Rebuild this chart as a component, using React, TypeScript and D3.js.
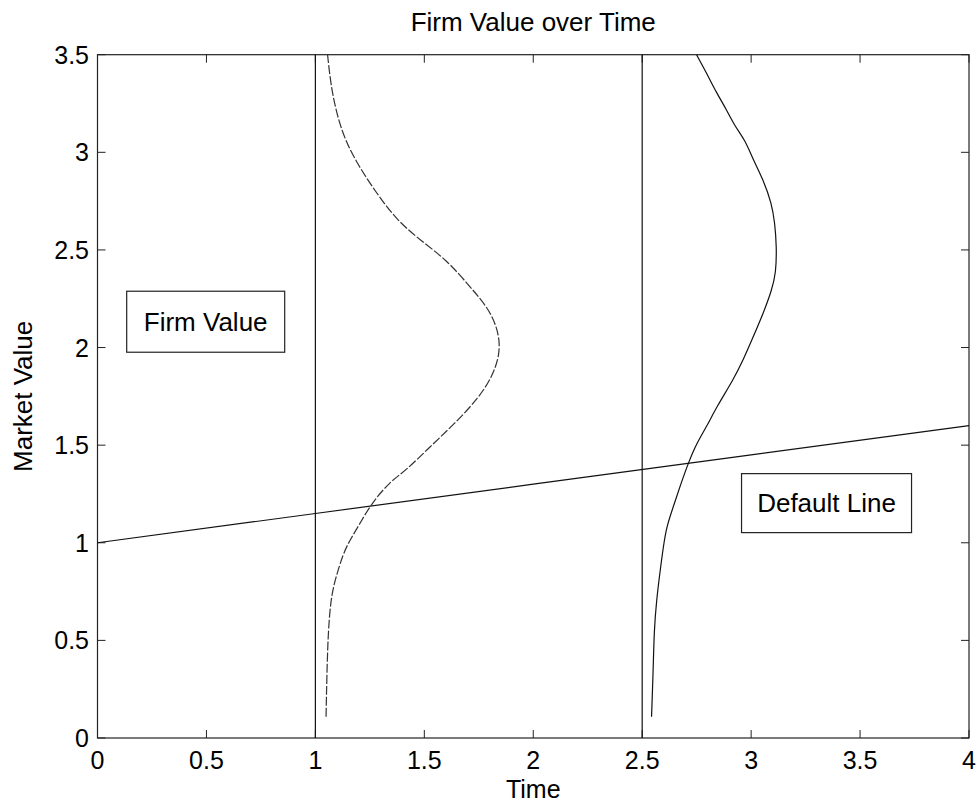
import React from "react";
import * as d3 from "d3";

const title = "Firm Value over Time";
const xLabel = "Time";
const yLabel = "Market Value";
const xTicks = [0, 0.5, 1, 1.5, 2, 2.5, 3, 3.5, 4];
const yTicks = [0, 0.5, 1, 1.5, 2, 2.5, 3, 3.5];

// default line (time, value)
const defaultTime = [0, 1, 2, 3, 4];
const defaultValue = [1.0, 1.15, 1.3, 1.45, 1.6];

// vertical time markers
const markerTimes = [1, 2.5];

// density curve at t = 1 : [time-position, market value]
const density1X = [1.049, 1.056, 1.070, 1.090, 1.128, 1.159, 1.205, 1.258, 1.342, 1.419, 1.526, 1.633, 1.755, 1.815, 1.845, 1.845, 1.810, 1.755, 1.709, 1.603, 1.480, 1.373, 1.281, 1.190, 1.121, 1.075, 1.056];
const density1Y = [0.109, 0.502, 0.707, 0.809, 0.946, 1.014, 1.100, 1.202, 1.313, 1.373, 1.492, 1.603, 1.748, 1.860, 1.960, 2.060, 2.170, 2.253, 2.312, 2.449, 2.551, 2.654, 2.790, 2.944, 3.098, 3.303, 3.499];

// density curve at t = 2.5
const density2X = [2.543, 2.551, 2.555, 2.566, 2.581, 2.597, 2.612, 2.643, 2.673, 2.711, 2.750, 2.796, 2.842, 2.918, 2.964, 3.010, 3.056, 3.095, 3.114, 3.117, 3.109, 3.094, 3.056, 3.010, 2.972, 2.926, 2.888, 2.842, 2.796, 2.750];
const density2Y = [0.109, 0.365, 0.553, 0.707, 0.844, 0.980, 1.083, 1.185, 1.287, 1.407, 1.510, 1.595, 1.697, 1.834, 1.937, 2.056, 2.176, 2.295, 2.381, 2.517, 2.637, 2.739, 2.859, 2.961, 3.064, 3.132, 3.217, 3.303, 3.405, 3.499];

// annotation boxes: t/v = lower-left corner in data units
const boxes = [
  { label: "Firm Value", t: 0.134, v: 1.976, w: 158, h: 61 },
  { label: "Default Line", t: 2.956, v: 1.052, w: 170, h: 59 },
];

const W = 980;
const H = 806;
const left = 97.5;
const right = 969;
const top = 54.7;
const bottom = 738;
const FONT = "'Liberation Sans', Arial, sans-serif";
const FS = 25;
const FS2 = 26;

export default function App() {
  const x = d3.scaleLinear().domain([0, 4]).range([left, right]);
  const y = d3.scaleLinear().domain([0, 3.5]).range([bottom, top]);
  const line = d3.line<[number, number]>().x((d) => x(d[0])).y((d) => y(d[1]));
  const curve = d3
    .line<[number, number]>()
    .x((d) => x(d[0]))
    .y((d) => y(d[1]))
    .curve(d3.curveBasis);

  const def: [number, number][] = defaultTime.map((t, i) => [t, defaultValue[i]]);
  const d1: [number, number][] = density1X.map((t, i) => [t, density1Y[i]]);
  const d2: [number, number][] = density2X.map((t, i) => [t, density2Y[i]]);
  const tl = 8;

  return (
    <svg width={W} height={H} style={{ position: "absolute", left: 0, top: 0, background: "#fff" }} fontFamily={FONT}>
      <rect x={0} y={0} width={W} height={H} fill="#fff" />
      <rect x={left} y={top} width={right - left} height={bottom - top} fill="none" stroke="#222" strokeWidth={1.2} />
      {xTicks.map((t) => (
        <g key={"xt" + t}>
          <line x1={x(t)} x2={x(t)} y1={bottom} y2={bottom - tl} stroke="#222" />
          <line x1={x(t)} x2={x(t)} y1={top} y2={top + tl} stroke="#222" />
          <text x={x(t)} y={769} textAnchor="middle" fontSize={FS} fill="#000">
            {String(t)}
          </text>
        </g>
      ))}
      {yTicks.map((v) => (
        <g key={"yt" + v}>
          <line x1={left} x2={left + tl} y1={y(v)} y2={y(v)} stroke="#222" />
          <line x1={right} x2={right - tl} y1={y(v)} y2={y(v)} stroke="#222" />
          <text x={89} y={y(v) + 9} textAnchor="end" fontSize={FS} fill="#000">
            {String(v)}
          </text>
        </g>
      ))}
      {markerTimes.map((t) => (
        <line key={"m" + t} x1={x(t)} x2={x(t)} y1={y(0)} y2={y(3.5)} stroke="#111" strokeWidth={1.2} />
      ))}
      <path d={line(def) || ""} fill="none" stroke="#111" strokeWidth={1.2} />
      <path d={curve(d1) || ""} fill="none" stroke="#333" strokeWidth={1.2} strokeDasharray="9 2" />
      <path d={curve(d2) || ""} fill="none" stroke="#111" strokeWidth={1.2} />
      {boxes.map((b) => (
        <g key={b.label}>
          <rect x={x(b.t)} y={y(b.v) - b.h} width={b.w} height={b.h} fill="#fff" stroke="#222" strokeWidth={1.2} />
          <text x={x(b.t) + b.w / 2} y={y(b.v) - b.h / 2 + 9} textAnchor="middle" fontSize={FS2} fill="#000">
            {b.label}
          </text>
        </g>
      ))}
      <text x={(left + right) / 2} y={31} textAnchor="middle" fontSize={FS2} fill="#000">
        {title}
      </text>
      <text x={(left + right) / 2} y={798} textAnchor="middle" fontSize={FS} fill="#000">
        {xLabel}
      </text>
      <text transform={`translate(32,${(top + bottom) / 2}) rotate(-90)`} textAnchor="middle" fontSize={FS2} fill="#000">
        {yLabel}
      </text>
    </svg>
  );
}
